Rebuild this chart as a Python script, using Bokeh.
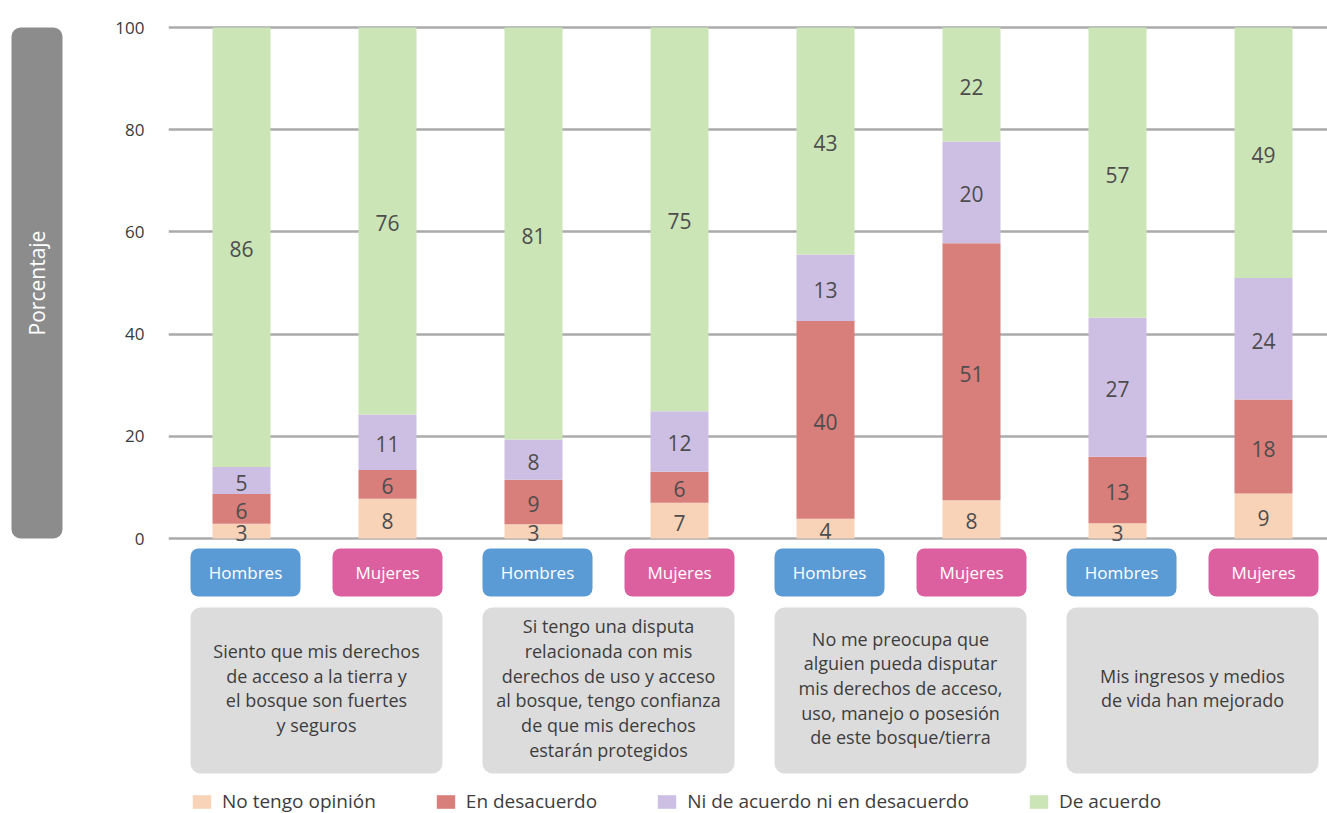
import numpy as np
from bokeh.plotting import figure
from bokeh.models import ColumnDataSource, Range1d, FixedTicker, Legend, LegendItem
from bokeh.layouts import row
from bokeh.core.properties import value
from bokeh.embed import file_html
from bokeh.resources import INLINE

# ---------------- data ----------------
statements = [
    "Siento que mis derechos\nde acceso a la tierra y\nel bosque son fuertes\ny seguros",
    "Si tengo una disputa\nrelacionada con mis\nderechos de uso y acceso\nal bosque, tengo confianza\nde que mis derechos\nestarán protegidos",
    "No me preocupa que\nalguien pueda disputar\nmis derechos de acceso,\nuso, manejo o posesión\nde este bosque/tierra",
    "Mis ingresos y medios\nde vida han mejorado",
]
sexes = ["Hombres", "Mujeres"]
series = ["No tengo opinión", "En desacuerdo", "Ni de acuerdo ni en desacuerdo", "De acuerdo"]

# segment heights (as drawn) for the 8 bars: H, M per statement
no_opinion = [2.9, 7.8, 2.8, 7.0, 3.9, 7.5, 3.0, 8.8]
disagree = [5.8, 5.6, 8.7, 6.1, 38.7, 50.3, 13.0, 18.4]
neutral = [5.3, 10.9, 7.9, 11.8, 13.0, 19.9, 27.2, 23.8]
agree = [86.0, 75.7, 80.6, 75.1, 44.4, 22.3, 56.8, 49.0]

# printed labels
no_opinion_lbl = [3, 8, 3, 7, 4, 8, 3, 9]
disagree_lbl = [6, 6, 9, 6, 40, 51, 13, 18]
neutral_lbl = [5, 11, 8, 12, 13, 20, 27, 24]
agree_lbl = [86, 76, 81, 75, 43, 22, 57, 49]

y_ticks = [0, 20, 40, 60, 80, 100]

# ---------------- styles ----------------
FONT = "Open Sans"
colors = ["#f9d3b7", "#d87e7b", "#cdbfe3", "#cbe5b7"]
sex_colors = {"Hombres": "#5b9bd5", "Mujeres": "#dc5fa0"}
sex_shift = {"Hombres": 4 / 146, "Mujeres": 0.0}
TXT = "#3d3d3d"

n = len(no_opinion)
xs = [i + 0.5 for i in range(n)]
cat_labels = [sexes[i % 2] for i in range(n)]
cat_x = [x + sex_shift[c] for x, c in zip(xs, cat_labels)]

# ---------------- main figure ----------------
xr = Range1d(0, 1159 / 146)
p = figure(width=1261, height=813, x_range=xr, y_range=Range1d(-53.8, 100.6),
           title=None, output_backend="svg", toolbar_location=None, x_axis_location=None,
           min_border_left=102, min_border_right=0, min_border_top=24, min_border_bottom=0)
p.extra_y_ranges = {"px": Range1d(0, 789)}
p.outline_line_color = None
p.background_fill_color = "white"
p.xgrid.visible = False
p.yaxis.ticker = FixedTicker(ticks=y_ticks)
p.ygrid.grid_line_color = "#ababab"
p.ygrid.grid_line_width = 2.5
p.yaxis.axis_line_color = None
p.yaxis.major_tick_line_color = None
p.yaxis.minor_tick_line_color = None
p.yaxis.major_label_text_font = FONT
p.yaxis.major_label_text_font_size = "17px"
p.yaxis.major_label_text_color = "#3a3a3a"
p.yaxis.major_label_standoff = 18

src = ColumnDataSource(dict(x=xs, no_opinion=no_opinion, disagree=disagree,
                            neutral=neutral, agree=agree))
stack_names = ["no_opinion", "disagree", "neutral", "agree"]
rs = p.vbar_stack(stack_names, x="x", width=58 / 146, fill_color=colors,
                  line_color=None, source=src)

# value labels at segment centres
cols = [no_opinion, disagree, neutral, agree]
lbls = [no_opinion_lbl, disagree_lbl, neutral_lbl, agree_lbl]
bottom = np.zeros(n)
lx, ly, lt = [], [], []
for vals, labs in zip(cols, lbls):
    v = np.array(vals, dtype=float)
    ly += list(bottom + v / 2)
    lx += xs
    lt += [str(l) for l in labs]
    bottom = bottom + v
p.text(x=lx, y=ly, text=lt, text_align="center", text_baseline="middle",
       text_font=value(FONT), text_font_size="21px", text_color="#4d4d4d", y_offset=2)

# category boxes (Hombres / Mujeres)
bw = 110 / 146
p.vbar(x=cat_x, width=bw, bottom=217, top=265, y_range_name="px",
       fill_color=[sex_colors[c] for c in cat_labels], line_color=None, border_radius=8)
p.text(x=cat_x, y=[241] * n, text=cat_labels, y_range_name="px", text_align="center",
       text_baseline="middle", text_font=value(FONT), text_font_size="17px",
       text_color="white")

# statement boxes
g_left = [cat_x[2 * k] - bw / 2 for k in range(len(statements))]
g_right = [cat_x[2 * k + 1] + bw / 2 for k in range(len(statements))]
g_mid = [(a + b) / 2 for a, b in zip(g_left, g_right)]
p.quad(left=g_left, right=g_right, bottom=40, top=206, y_range_name="px",
       fill_color="#dcdcdc", line_color=None, border_radius=10)
p.text(x=g_mid, y=[125.5] * len(statements), text=statements, y_range_name="px",
       text_align="center", text_baseline="middle", text_font=value(FONT),
       text_font_size="18px", text_color=TXT, text_line_height=1.03)

legend = Legend(items=[LegendItem(label=s, renderers=[r]) for s, r in zip(series, rs)],
                location=(22, -1), orientation="horizontal", spacing=58,
                glyph_width=23, glyph_height=17, label_standoff=9, label_height=17,
                label_text_font=FONT, label_text_font_size="19px", label_text_color=TXT,
                padding=0, margin=0, border_line_color=None, background_fill_alpha=0)
p.add_layout(legend)

# ---------------- left label panel ----------------
# frame spans page y 24..813 (borders aligned with the main plot in the row)
left = figure(width=66, height=813, x_range=Range1d(0, 66), y_range=Range1d(0, 789),
              title=None, output_backend="svg", toolbar_location=None, x_axis_location=None,
              y_axis_location=None, min_border=0, min_border_top=24, min_border_bottom=0)
left.grid.visible = False
left.outline_line_color = None
left.quad(left=11, right=62, bottom=275, top=786, fill_color="#8c8c8c",
          line_color=None, border_radius=9)
left.text(x=[36.5], y=[530.5], text=["Porcentaje"], angle=np.pi / 2, text_align="center",
          text_baseline="middle", text_font=value(FONT), text_font_size="21px",
          text_color="white")

layout = row(left, p)
open("out.html", "w").write(file_html(layout, INLINE))
